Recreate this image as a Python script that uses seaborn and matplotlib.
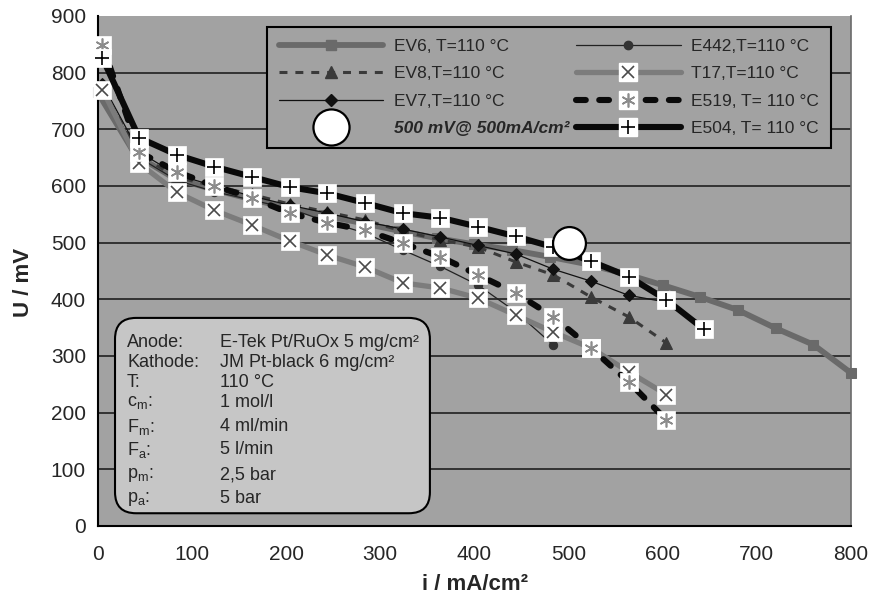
import matplotlib
matplotlib.use("Agg")
import matplotlib.pyplot as plt
from matplotlib.lines import Line2D
from matplotlib.patches import FancyBboxPatch
from matplotlib.legend_handler import HandlerTuple
import seaborn as sns

# ---- data: cell voltage U (mV) versus current density i (mA/cm²) ----
i_ev6 = [0, 40, 80, 120, 160, 200, 240, 280, 320, 360, 400, 440, 480,
         520, 560, 600, 640, 680, 720, 760, 800]
i_cell = [5, 44, 84, 124, 164, 204, 244, 284, 324, 364, 404, 444, 484,
          524, 564, 604, 644]

u_ev6 = [765, 655, 615, 595, 578, 562, 548, 535, 521, 508, 497, 487, 475,
         462, 445, 425, 404, 381, 349, 320, 270]
u_ev8 = [770, 655, 615, 600, 585, 568, 554, 540, 520, 505, 492, 466, 443,
         404, 369, 323]
u_ev7 = [780, 660, 620, 600, 582, 566, 552, 537, 524, 510, 495, 480, 453,
         432, 407, 395]
u_e442 = [775, 650, 610, 590, 575, 560, 537, 517, 487, 458, 425, 378, 319]
u_t17 = [770, 640, 589, 557, 531, 503, 478, 457, 429, 420, 402, 372, 342,
         314, 272, 232]
u_e519 = [849, 660, 625, 600, 579, 552, 535, 522, 499, 475, 443, 411, 369,
          314, 254, 187]
u_e504 = [826, 685, 655, 634, 616, 598, 587, 570, 552, 544, 528, 511, 492,
          467, 440, 399, 347]

target_i = [500]
target_u = [500]

labels = ["EV6, T=110 °C", "EV8,T=110 °C", "EV7,T=110 °C",
          "500 mV@ 500mA/cm²", "E442,T=110 °C", "T17,T=110 °C",
          "E519, T= 110 °C", "E504, T= 110 °C"]

x_ticks = [0, 100, 200, 300, 400, 500, 600, 700, 800]
y_ticks = [0, 100, 200, 300, 400, 500, 600, 700, 800, 900]

info_keys = ["Anode:", "Kathode:", "T:", r"$\mathregular{c_m}$:",
             r"$\mathregular{F_m}$:", r"$\mathregular{F_a}$:",
             r"$\mathregular{p_m}$:", r"$\mathregular{p_a}$:"]
info_vals = ["E-Tek Pt/RuOx 5 mg/cm²", "JM Pt-black 6 mg/cm²", "110 °C",
             "1 mol/l", "4 ml/min", "5 l/min", "2,5 bar", "5 bar"]

# ---- style ----
sns.set_style("white")
plt.rcParams["font.family"] = ["Liberation Sans", "DejaVu Sans"]
plt.rcParams["mathtext.fontset"] = "custom"
plt.rcParams["mathtext.rm"] = "Liberation Sans"

PLOT_BG = "#a2a2a2"

fig = plt.figure(figsize=(8.73, 6.01), dpi=100)
ax = fig.add_axes([0.1119, 0.1248, 0.8629, 0.8486])
ax.set_facecolor(PLOT_BG)


def curve(x, y, z, **kw):
    sns.lineplot(x=x, y=y, ax=ax, sort=False, estimator=None, zorder=z,
                 clip_on=False, **kw)


def boxed_marker(x, y, z, marker, color, size=9, mew=1.2):
    # white square backing with a symbol drawn on top
    sns.lineplot(x=x, y=y, ax=ax, sort=False, estimator=None, zorder=z,
                 linestyle="none", marker="s", markersize=13,
                 markerfacecolor="white", markeredgecolor="white",
                 markeredgewidth=0.5, clip_on=False)
    sns.lineplot(x=x, y=y, ax=ax, sort=False, estimator=None, zorder=z + 0.05,
                 linestyle="none", marker=marker, markersize=size,
                 markerfacecolor=color, markeredgecolor=color,
                 markeredgewidth=mew, clip_on=False)


EV6_C, EV8_C, T17_C = "#6a6a6a", "#3a3a3a", "#7c7c7c"
AST_C, X_C = "#8c8c8c", "#4a4a4a"
DASH_EV8 = (0, (2.6, 2.6))
DASH_E519 = (0, (1.6, 2.2))

curve(i_ev6, u_ev6, 3, color=EV6_C, linewidth=4.2, marker="s", markersize=7,
      markerfacecolor=EV6_C, markeredgecolor=EV6_C)
curve(i_cell[:len(u_ev8)], u_ev8, 3.2, color=EV8_C, linewidth=2.2,
      linestyle=DASH_EV8, marker="^", markersize=8,
      markerfacecolor=EV8_C, markeredgecolor=EV8_C)
curve(i_cell[:len(u_ev7)], u_ev7, 3.4, color="#111111", linewidth=0.9,
      marker="D", markersize=6, markerfacecolor="#111111",
      markeredgecolor="#111111")
curve(i_cell[:len(u_e442)], u_e442, 3.6, color="#222222", linewidth=0.9,
      marker="o", markersize=6, markerfacecolor="#333333",
      markeredgecolor="#333333")
curve(i_cell[:len(u_t17)], u_t17, 3.8, color=T17_C, linewidth=3.8)
boxed_marker(i_cell[:len(u_t17)], u_t17, 3.85, "x", X_C, size=9)
curve(i_cell[:len(u_e519)], u_e519, 4.0, color="#0a0a0a", linewidth=4.4,
      linestyle=DASH_E519, solid_capstyle="round", dash_capstyle="round")
boxed_marker(i_cell[:len(u_e519)], u_e519, 4.05, (6, 2, 0), AST_C, size=10)
curve(i_cell[:len(u_e504)], u_e504, 4.2, color="#0a0a0a", linewidth=4.4)
boxed_marker(i_cell[:len(u_e504)], u_e504, 4.25, "+", "#000000", size=10)
sns.scatterplot(x=target_i, y=target_u, ax=ax, marker="o", s=560,
                color="white", edgecolor="black", linewidth=1.6, zorder=6)

# ---- axes ----
ax.set_xlim(0, 800)
ax.set_ylim(0, 900)
ax.set_xticks(x_ticks)
ax.set_yticks(y_ticks)
ax.tick_params(axis="both", labelsize=15, direction="out", length=4.5,
               width=1.2, color="black")
ax.tick_params(axis="y", pad=4)
ax.tick_params(axis="x", pad=9)
for y in y_ticks[1:-1]:
    ax.axhline(y, color="#151515", linewidth=1.1, zorder=1)
for side in ("left", "bottom"):
    ax.spines[side].set_color("black")
    ax.spines[side].set_linewidth(1.5)
ax.spines["top"].set_visible(False)
ax.spines["right"].set_color("#6a6a6a")
ax.spines["right"].set_linewidth(1.2)

ax.set_xlabel("i / mA/cm²", fontsize=16, fontweight="bold")
ax.set_ylabel("U / mV", fontsize=16, fontweight="bold")
ax.xaxis.set_label_coords(0.501, -0.095)
ax.yaxis.set_label_coords(-0.084, 0.478)


# ---- legend ----
def handle(**kw):
    return Line2D([], [], **kw)


def boxed(line_kw, marker, color, size=9):
    base = handle(**line_kw)
    sq = handle(linestyle="none", marker="s", markersize=13,
                markerfacecolor="white", markeredgecolor="white")
    sym = handle(linestyle="none", marker=marker, markersize=size,
                 markerfacecolor=color, markeredgecolor=color,
                 markeredgewidth=1.2)
    return (base, sq, sym)


handles = [
    handle(color=EV6_C, linewidth=4.2, marker="s", markersize=7,
           markerfacecolor=EV6_C, markeredgecolor=EV6_C),
    handle(color=EV8_C, linewidth=2.2, linestyle=DASH_EV8, marker="^",
           markersize=8, markerfacecolor=EV8_C, markeredgecolor=EV8_C),
    handle(color="#111111", linewidth=0.9, marker="D", markersize=6,
           markerfacecolor="#111111", markeredgecolor="#111111"),
    handle(linestyle="none", marker="o", markersize=26,
           markerfacecolor="white", markeredgecolor="black",
           markeredgewidth=1.6),
    handle(color="#222222", linewidth=0.9, marker="o", markersize=6,
           markerfacecolor="#333333", markeredgecolor="#333333"),
    boxed(dict(color=T17_C, linewidth=3.8), "x", X_C),
    boxed(dict(color="#0a0a0a", linewidth=4.4, linestyle=DASH_E519,
               dash_capstyle="round"), (6, 2, 0), AST_C, size=10),
    boxed(dict(color="#0a0a0a", linewidth=4.4), "+", "#000000", size=10),
]

leg = ax.legend(handles, labels, ncol=2, loc="lower left",
                bbox_to_anchor=(0.213, 0.724, 0.772, 0.258), mode="expand",
                fontsize=12.5, handlelength=6.0, handletextpad=0.6,
                labelspacing=0.7, borderpad=0.7, columnspacing=1.5,
                numpoints=1, fancybox=False, frameon=True,
                handler_map={tuple: HandlerTuple(ndivide=1)})
frame = leg.get_frame()
frame.set_facecolor(PLOT_BG)
frame.set_edgecolor("black")
frame.set_linewidth(1.5)
frame.set_alpha(1)
leg.set_zorder(10)
leg.get_texts()[3].set_fontweight("bold")
leg.get_texts()[3].set_fontstyle("italic")

# ---- operating-conditions box ----
box = FancyBboxPatch((0.023, 0.025), 0.418, 0.383,
                     boxstyle="round,pad=0,rounding_size=0.028",
                     mutation_aspect=753.3 / 510.0, transform=ax.transAxes,
                     facecolor="#c6c6c6", edgecolor="black", linewidth=1.5,
                     zorder=8)
ax.add_patch(box)
row_y = [343, 363, 383, 403, 427, 450, 475, 499]
for key, val, py in zip(info_keys, info_vals, row_y):
    ya = (526 - py) / 510.0
    ax.text(0.039, ya, key, transform=ax.transAxes, fontsize=13,
            va="center", ha="left", zorder=9)
    ax.text(0.163, ya, val, transform=ax.transAxes, fontsize=13,
            va="center", ha="left", zorder=9)

fig.savefig("out.png", dpi=100)
